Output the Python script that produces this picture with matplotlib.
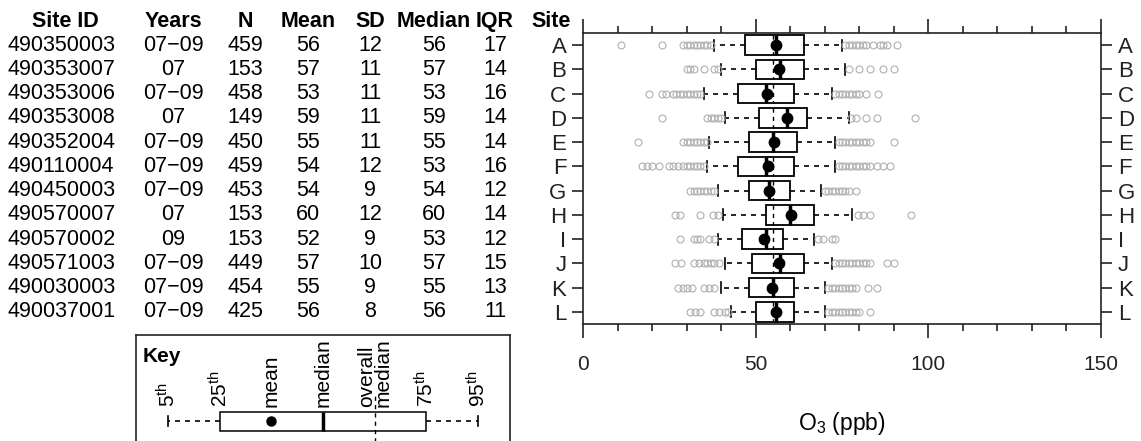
import numpy as np
import matplotlib
matplotlib.use("Agg")
import matplotlib.pyplot as plt
import matplotlib.transforms as mtransforms

plt.rcParams['font.family'] = ['Liberation Sans', 'DejaVu Sans']
plt.rcParams['mathtext.fontset'] = 'custom'
plt.rcParams['mathtext.rm'] = 'Liberation Sans'
plt.rcParams['mathtext.it'] = 'Liberation Sans:italic'
plt.rcParams['mathtext.bf'] = 'Liberation Sans:bold'

# table
sites = ["A", "B", "C", "D", "E", "F", "G", "H", "I", "J", "K", "L"]
site_ids = ["490350003", "490353007", "490353006", "490353008", "490352004", "490110004",
            "490450003", "490570007", "490570002", "490571003", "490030003", "490037001"]
years = ["07\u221209", "07", "07\u221209", "07", "07\u221209", "07\u221209",
         "07\u221209", "07", "09", "07\u221209", "07\u221209", "07\u221209"]
n_obs = [459, 153, 458, 149, 450, 459, 453, 153, 153, 449, 454, 425]
mean_tab = [56, 57, 53, 59, 55, 54, 54, 60, 52, 57, 55, 56]
sd_tab = [12, 11, 11, 11, 11, 12, 9, 12, 9, 10, 9, 8]
median_tab = [56, 57, 53, 59, 55, 53, 54, 60, 53, 57, 55, 56]
iqr_tab = [17, 14, 16, 14, 14, 16, 12, 14, 12, 15, 13, 11]

# box plot stats (ppb)
p5 = [38, 40, 35, 41, 36.6, 36, 39, 40.5, 39, 41, 40, 43]
q1 = [47, 50, 45, 51, 48, 45, 48, 53, 46, 49, 48, 50]
q3 = [64, 64, 61, 65, 62, 61, 60, 67, 58, 64, 61, 61]
p95 = [75, 76, 72, 77, 73, 73, 69, 78, 67, 72, 70, 70]
means = [55.9, 56.9, 53.3, 59, 55.2, 53.5, 54, 60.2, 52.4, 56.9, 54.8, 56]
low_out = [
    [11, 23, 29, 30, 31, 32, 33, 34, 35, 36, 37],
    [30, 31, 32, 35, 38, 39],
    [19, 23, 24, 26, 27, 28, 29, 30, 31, 32, 33, 34],
    [23, 36, 37, 38, 39, 40],
    [16, 29, 30, 31, 32, 33, 34, 35, 36],
    [17, 18.5, 20, 22, 25, 26, 27.5, 29, 30, 31, 32, 33, 34, 35],
    [31, 32, 33, 34, 35, 36, 37, 38],
    [26.5, 28, 34, 37.5, 39],
    [28, 32, 33, 34, 36.5, 38],
    [26.5, 28.5, 32, 33.5, 35, 36, 37, 38, 39.5],
    [27.5, 29, 30, 31.5, 35, 36.5, 38],
    [31, 32.5, 34, 38, 39.5, 41, 42],
]
high_out = [
    [76, 77, 78, 79, 80, 81, 82, 84, 86, 87, 88, 91],
    [77, 80, 83, 87, 90],
    [73, 74, 75, 76, 77, 78, 79, 80, 82, 85.5],
    [77.5, 79, 82, 85, 96],
    [74, 75, 76, 77, 78, 79, 80, 81, 82, 83, 90],
    [74, 75, 76, 77, 78, 79, 80, 81, 82, 83, 85, 87, 89],
    [70, 71, 72, 73, 74, 75, 76, 77, 79],
    [79.5, 81, 83, 95],
    [68, 69.5, 72, 73],
    [73, 74, 75, 76, 77, 78, 79, 80, 81, 82, 83, 88, 90],
    [71, 72, 73, 74, 75, 76, 77, 78, 79, 82.5, 85],
    [71, 72, 73, 74, 75, 76, 77, 78, 79, 80, 83],
]
overall_median = 55

headers = ["Site ID", "Years", "N", "Mean", "SD", "Median", "IQR", "Site"]

# key: 5th, 25th, mean, median, overall median, 75th, 95th
key_labels = ["5$^{\\rm th}$", "25$^{\\rm th}$", "mean", "median", "overall\nmedian",
              "75$^{\\rm th}$", "95$^{\\rm th}$"]
key_pos = [0, 1, 2, 3, 4, 5, 6]

W, H = 1141, 441
fig = plt.figure(figsize=(W / 100, H / 100), dpi=100)
ax = fig.add_axes([583 / W, 1 - 324 / H, 518 / W, 291 / H])

stats = []
for i in range(len(sites)):
    stats.append(dict(med=median_tab[i], q1=q1[i], q3=q3[i], whislo=p5[i], whishi=p95[i],
                      mean=means[i], fliers=np.array(low_out[i] + high_out[i])))

dash = (0, (3, 3))
box_kw = dict(widths=0.8, patch_artist=True, showmeans=True, capwidths=0.45,
              boxprops=dict(facecolor='white', edgecolor='black', linewidth=1.3),
              medianprops=dict(color='black', linewidth=2.5),
              meanprops=dict(marker='o', markerfacecolor='black', markeredgecolor='black', markersize=7.5),
              whiskerprops=dict(color='black', linestyle=dash, linewidth=1.2),
              capprops=dict(color='black', linewidth=1.2),
              flierprops=dict(marker='o', markerfacecolor='none', markeredgecolor='#b0b0b0',
                              markersize=5, markeredgewidth=0.8))
ax.bxp(stats, positions=range(len(sites)), orientation='horizontal', **box_kw)
for i in range(len(sites)):
    ax.plot([overall_median, overall_median], [i - 0.4, i + 0.4], color='black',
            linestyle=dash, linewidth=1, zorder=3)

ax.set_xlim(0, 150)
ax.set_ylim(len(sites) - 0.5, -0.5)
ax.set_xticks([0, 50, 100, 150])
ax.set_xticks(np.arange(0, 151, 10), minor=True)
ax.set_yticks(range(len(sites)))
ax.set_yticklabels(sites)
ax.tick_params(axis='x', which='major', direction='out', length=10, width=1.2,
               top=True, bottom=True, labeltop=False, labelsize=15, pad=12, colors='#222222')
ax.tick_params(axis='x', which='minor', direction='out', length=5, width=1.2, top=True, bottom=True,
               colors='#222222')
ax.tick_params(axis='y', which='major', direction='out', length=8, width=1.2, left=True, right=True,
               labelleft=True, labelright=True, labelsize=16, pad=4, colors='#222222')
ax.tick_params(axis='y', which='minor', left=False, right=False)
for s in ax.spines.values():
    s.set_linewidth(1.2)
    s.set_color('#222222')
ax.set_xlabel("O$_3$ (ppb)", fontsize=16.5, labelpad=26)

# table on the left
trans = mtransforms.blended_transform_factory(fig.transFigure, ax.transData)
col_x = [65, 173, 245, 308, 370, 434, 495, 551]
for x, h in zip(col_x, headers):
    fig.text(x / W, -0.97, h, transform=trans, ha='center', va='center',
             fontsize=15.5, fontweight='bold')
cols = [years, n_obs, mean_tab, sd_tab, median_tab, iqr_tab]
for i in range(len(sites)):
    fig.text(8 / W, i, site_ids[i], transform=trans, ha='left', va='center', fontsize=15.5)
    for x, col in zip(col_x[1:7], cols):
        fig.text(x / W, i, str(col[i]), transform=trans, ha='center', va='center', fontsize=15.5)

# key
kax = fig.add_axes([136 / W, -0.0317, 374 / W, 0.272])
key_stats = [dict(whislo=key_pos[0], q1=key_pos[1], mean=key_pos[2], med=key_pos[3],
                  q3=key_pos[5], whishi=key_pos[6], fliers=[])]
kkw = dict(box_kw)
kkw['widths'] = 0.95
kkw['capwidths'] = 0.5
kkw['meanprops'] = dict(marker='o', markerfacecolor='black', markeredgecolor='black', markersize=6.5)
kkw['boxprops'] = dict(facecolor='white', edgecolor='black', linewidth=1.1)
kax.bxp(key_stats, positions=[0], orientation='horizontal', **kkw)
kax.plot([key_pos[4], key_pos[4]], [-1.7, 1.45], color='black', linestyle=dash, linewidth=1, zorder=3)
kax.set_xlim(-0.62, 6.62)
kax.set_ylim(-1.675, 4.325)
kax.set_xticks([])
kax.set_yticks([])
for s in kax.spines.values():
    s.set_linewidth(1.2)
    s.set_color('#222222')
for p, lab in zip(key_pos, key_labels):
    kax.text(p, 0.72, lab, rotation=90, ha='center', va='bottom', fontsize=15,
             multialignment='left', linespacing=0.8)
fig.text(143 / W, 1 - 357 / H, "Key", ha='left', va='center', fontsize=15, fontweight='bold')

fig.savefig("out.png", dpi=100)
